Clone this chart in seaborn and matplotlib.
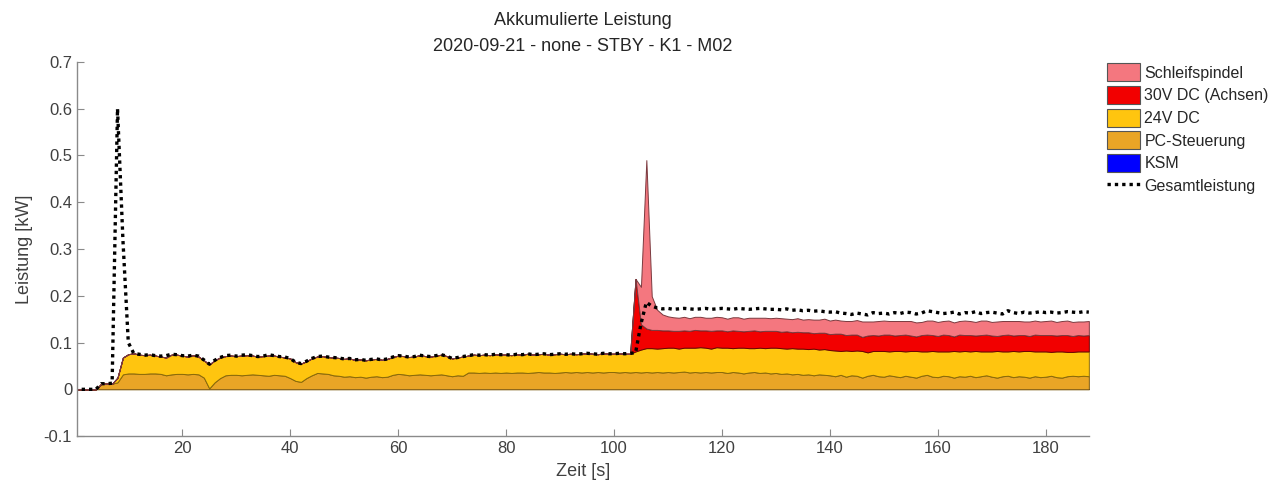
import numpy as np
import pandas as pd
import matplotlib
matplotlib.use("Agg")
import matplotlib.pyplot as plt
import seaborn as sns
from matplotlib.patches import Patch
from matplotlib.lines import Line2D

# ---------------- data ----------------
zeit = list(range(0, 189))  # seconds

pc_steuerung = (
    [0.0, 0.0, 0.0, 0.0, 0.0, 0.012, 0.012, 0.012, 0.015]
    + [0.032, 0.034, 0.034, 0.033, 0.033, 0.034, 0.034, 0.033, 0.030, 0.032, 0.033, 0.033, 0.032, 0.033, 0.032]
    + [0.025, 0.002, 0.015, 0.024, 0.030]
    + [0.031, 0.031, 0.030, 0.031, 0.032, 0.031, 0.030, 0.029, 0.031, 0.030, 0.029]
    + [0.024, 0.018, 0.016, 0.024, 0.030, 0.035, 0.034, 0.033, 0.030, 0.029]
    + [0.027, 0.028, 0.026, 0.027, 0.025, 0.027, 0.028, 0.026, 0.027, 0.031]
    + [0.033, 0.032, 0.030, 0.031, 0.032, 0.031, 0.030, 0.031, 0.032, 0.030]
    + [0.028, 0.030, 0.029, 0.036, 0.036, 0.035, 0.036, 0.035, 0.036, 0.035]
    + [0.036, 0.035, 0.036, 0.036, 0.035, 0.036, 0.037, 0.036, 0.036, 0.035]
    + [0.036, 0.037, 0.036, 0.037, 0.036, 0.037, 0.036, 0.037, 0.036, 0.037]
    + [0.037, 0.036, 0.037, 0.036, 0.037, 0.036, 0.037, 0.036, 0.037, 0.036]
    + [0.037, 0.036, 0.037, 0.038, 0.036, 0.037, 0.036, 0.037, 0.036, 0.037]
    + [0.037, 0.035, 0.037, 0.036, 0.034, 0.036, 0.037, 0.035, 0.036, 0.034]
    + [0.035, 0.033, 0.034, 0.032, 0.033, 0.031, 0.032, 0.030, 0.032, 0.031]
    + [0.030, 0.028, 0.031, 0.027, 0.030, 0.029, 0.025, 0.029, 0.031, 0.028]
    + [0.027, 0.030, 0.028, 0.026, 0.029, 0.027, 0.025, 0.029, 0.031, 0.027]
    + [0.026, 0.029, 0.028, 0.025, 0.028, 0.027, 0.029, 0.026, 0.028, 0.030]
    + [0.027, 0.025, 0.028, 0.029, 0.026, 0.028, 0.027, 0.025, 0.028, 0.026]
    + [0.027, 0.029, 0.026, 0.025, 0.028, 0.029, 0.028, 0.029, 0.028]
)

dc_24v = (
    [0.0] * 8 + [0.010, 0.036]
    + [0.041, 0.043, 0.041, 0.040, 0.040, 0.038, 0.037, 0.038, 0.042, 0.041, 0.039, 0.038, 0.040, 0.038]
    + [0.037, 0.051, 0.047, 0.044]
    + [0.041, 0.041, 0.040, 0.042, 0.042, 0.040, 0.039, 0.041, 0.043, 0.041, 0.040, 0.039]
    + [0.042, 0.040, 0.039, 0.036, 0.036, 0.035, 0.037, 0.036, 0.038, 0.038]
    + [0.038, 0.038, 0.037, 0.037, 0.037, 0.037, 0.037, 0.037, 0.038, 0.038]
    + [0.039, 0.039, 0.039, 0.039, 0.041, 0.040, 0.040, 0.041, 0.042, 0.041]
    + [0.038, 0.038, 0.041, 0.036, 0.038, 0.038, 0.038, 0.038, 0.039, 0.039]
    + [0.038, 0.038, 0.039, 0.038, 0.041, 0.038, 0.038, 0.040, 0.038, 0.040]
    + [0.040, 0.038, 0.040, 0.038, 0.040, 0.040, 0.040, 0.038, 0.041, 0.039]
    + [0.039, 0.041, 0.039, 0.040]
    + [0.044, 0.049, 0.051, 0.052, 0.050, 0.052]
    + [0.052, 0.053, 0.050, 0.051, 0.053, 0.052, 0.054, 0.052, 0.051, 0.053]
    + [0.052, 0.054, 0.051, 0.053, 0.055, 0.052, 0.051, 0.054, 0.052, 0.055]
    + [0.054, 0.055, 0.053, 0.056, 0.054, 0.056, 0.054, 0.057, 0.053, 0.055]
    + [0.054, 0.055, 0.051, 0.056, 0.052, 0.054, 0.057, 0.050, 0.051, 0.054]
    + [0.055, 0.051, 0.054, 0.056, 0.052, 0.055, 0.057, 0.052, 0.050, 0.055]
    + [0.055, 0.052, 0.053, 0.057, 0.053, 0.055, 0.052, 0.056, 0.053, 0.051]
    + [0.054, 0.057, 0.053, 0.052, 0.056, 0.053, 0.055, 0.057, 0.053, 0.055]
    + [0.054, 0.051, 0.055, 0.056, 0.052, 0.051, 0.053, 0.052, 0.053]
)

dc_30v_achsen = (
    [0.0] * 104
    + [0.155, 0.054, 0.042, 0.039, 0.040, 0.038]
    + [0.037, 0.036, 0.038, 0.037, 0.036, 0.038, 0.036, 0.037, 0.038, 0.036]
    + [0.037, 0.035, 0.038, 0.036, 0.035, 0.037, 0.038, 0.035, 0.037, 0.036]
    + [0.036, 0.035, 0.037, 0.034, 0.036, 0.035, 0.036, 0.033, 0.036, 0.035]
    + [0.034, 0.036, 0.037, 0.033, 0.035, 0.034, 0.030, 0.036, 0.034, 0.033]
    + [0.035, 0.036, 0.033, 0.034, 0.036, 0.033, 0.031, 0.035, 0.036, 0.034]
    + [0.033, 0.036, 0.035, 0.031, 0.036, 0.034, 0.035, 0.033, 0.035, 0.036]
    + [0.034, 0.032, 0.035, 0.036, 0.033, 0.035, 0.034, 0.032, 0.036, 0.035]
    + [0.035, 0.036, 0.034, 0.035, 0.036, 0.034, 0.035, 0.034, 0.035]
)

schleifspindel = (
    [0.0] * 105
    + [0.080, 0.360, 0.072, 0.043, 0.034]
    + [0.030, 0.029, 0.028, 0.029, 0.027, 0.028, 0.029, 0.027, 0.028, 0.029]
    + [0.028, 0.027, 0.028, 0.029, 0.027, 0.028, 0.027, 0.029, 0.028, 0.027]
    + [0.028, 0.029, 0.027, 0.028, 0.029, 0.027, 0.028, 0.029, 0.028, 0.030]
    + [0.029, 0.030, 0.028, 0.030, 0.029, 0.031, 0.033, 0.030, 0.029, 0.031]
    + [0.030, 0.029, 0.031, 0.030, 0.029, 0.031, 0.030, 0.028, 0.030, 0.031]
    + [0.030, 0.029, 0.031, 0.030, 0.029, 0.031, 0.030, 0.029, 0.031, 0.030]
    + [0.029, 0.031, 0.030, 0.029, 0.031, 0.030, 0.029, 0.031, 0.030, 0.029]
    + [0.030, 0.031, 0.029, 0.030, 0.031, 0.030, 0.029, 0.030, 0.030]
)

ksm = [0.0] * 189

gesamtleistung = (
    [0.0, 0.0, 0.0, 0.0, 0.0, 0.012, 0.012, 0.013, 0.600, 0.320, 0.100, 0.077]
    + [0.075, 0.073, 0.074, 0.072, 0.071, 0.072, 0.075, 0.074, 0.072, 0.071, 0.073, 0.071]
    + [0.063, 0.054, 0.062, 0.068]
    + [0.072, 0.073, 0.071, 0.073, 0.074, 0.072, 0.070, 0.071, 0.074, 0.072, 0.070, 0.069]
    + [0.066, 0.058, 0.055, 0.060, 0.066, 0.070, 0.071, 0.069, 0.068, 0.067]
    + [0.065, 0.066, 0.063, 0.064, 0.062, 0.064, 0.065, 0.063, 0.065, 0.069]
    + [0.072, 0.071, 0.069, 0.070, 0.073, 0.071, 0.070, 0.072, 0.074, 0.071]
    + [0.066, 0.068, 0.070, 0.072, 0.074, 0.073, 0.074, 0.073, 0.075, 0.074]
    + [0.074, 0.073, 0.075, 0.074, 0.076, 0.074, 0.075, 0.076, 0.074, 0.075]
    + [0.076, 0.075, 0.076, 0.075, 0.076, 0.077, 0.076, 0.075, 0.077, 0.076]
    + [0.076, 0.077, 0.076, 0.077, 0.078]
    + [0.140, 0.186, 0.178, 0.174]
    + [0.172, 0.173, 0.171, 0.172, 0.173, 0.172, 0.171, 0.172, 0.173, 0.171, 0.172]
    + [0.173, 0.172, 0.171, 0.173, 0.172, 0.171, 0.172, 0.173, 0.172, 0.171]
    + [0.171, 0.170, 0.172, 0.169, 0.170, 0.168, 0.169, 0.167, 0.168, 0.166]
    + [0.165, 0.166, 0.163, 0.162, 0.160, 0.163, 0.161, 0.159, 0.164, 0.162]
    + [0.163, 0.161, 0.164, 0.162, 0.165, 0.164, 0.161, 0.163, 0.168, 0.166]
    + [0.164, 0.162, 0.163, 0.165, 0.161, 0.164, 0.163, 0.166, 0.162, 0.164]
    + [0.165, 0.163, 0.161, 0.168, 0.164, 0.162, 0.165, 0.163, 0.164, 0.166]
    + [0.164, 0.165, 0.163, 0.164, 0.166, 0.165, 0.164, 0.166, 0.165]
)

series_names = ["KSM", "PC-Steuerung", "24V DC", "30V DC (Achsen)", "Schleifspindel"]
series_colors = ["#0000FF", "#E9A526", "#FFC50F", "#F20000", "#F4777F"]
edge_colors = ["#00007F", "#7A5A10", "#8A6A08", "#6A0000", "#7A3A3F"]
legend_order = ["Schleifspindel", "30V DC (Achsen)", "24V DC", "PC-Steuerung", "KSM"]
title_text = "Akkumulierte Leistung\n2020-09-21 - none - STBY - K1 - M02"
x_ticks = [20, 40, 60, 80, 100, 120, 140, 160, 180]
y_ticks = [-0.1, 0.0, 0.1, 0.2, 0.3, 0.4, 0.5, 0.6, 0.7]
y_tick_labels = ["-0.1", "0", "0.1", "0.2", "0.3", "0.4", "0.5", "0.6", "0.7"]

# ---------------- plot ----------------
sns.set_theme(style="white")
plt.rcParams["font.family"] = ["Liberation Sans", "DejaVu Sans"]

fig = plt.figure(figsize=(12.84, 4.95), dpi=100)
ax = fig.add_axes([0.060, 0.119, 0.788, 0.756])

values = [ksm, pc_steuerung, dc_24v, dc_30v_achsen, schleifspindel]
polys = ax.stackplot(zeit, *values, colors=series_colors, linewidth=0.7)
for p, ec in zip(polys, edge_colors):
    p.set_edgecolor(ec)

df = pd.DataFrame({"Zeit": zeit, "Gesamtleistung": gesamtleistung})
sns.lineplot(data=df, x="Zeit", y="Gesamtleistung", ax=ax, color="black",
             linestyle=(0, (1, 1.2)), linewidth=2.4)

ax.set_xlim(0.5, 188)
ax.set_ylim(-0.1, 0.7)
ax.set_xticks(x_ticks)
ax.set_yticks(y_ticks)
ax.set_yticklabels(y_tick_labels)

for side in ["top", "right"]:
    ax.spines[side].set_visible(False)
for side in ["left", "bottom"]:
    ax.spines[side].set_color("#8a8a8a")
    ax.spines[side].set_linewidth(1.0)

ax.tick_params(axis="both", direction="in", length=5, width=0.8, color="#8a8a8a",
               labelsize=12, labelcolor="#404040", left=True, bottom=True)
ax.set_xlabel("Zeit [s]", fontsize=13, color="#404040", labelpad=5)
ax.set_ylabel("Leistung [kW]", fontsize=13, color="#404040", labelpad=8)
ax.set_title(title_text, fontsize=13, color="#262626", pad=8, linespacing=1.65)

color_map = dict(zip(series_names, series_colors))
handles = [Patch(facecolor=color_map[n], edgecolor="#555555", linewidth=0.8) for n in legend_order]
handles.append(Line2D([0], [0], color="black", linestyle=(0, (1, 1.2)), linewidth=2.4))
labels = legend_order + ["Gesamtleistung"]
fig.legend(handles, labels, loc="upper left", bbox_to_anchor=(0.857, 0.885),
           frameon=False, fontsize=11.5, handlelength=2.1, handleheight=1.35,
           handletextpad=0.25, labelspacing=0.3, borderaxespad=0)

fig.savefig("out.png", dpi=100)
